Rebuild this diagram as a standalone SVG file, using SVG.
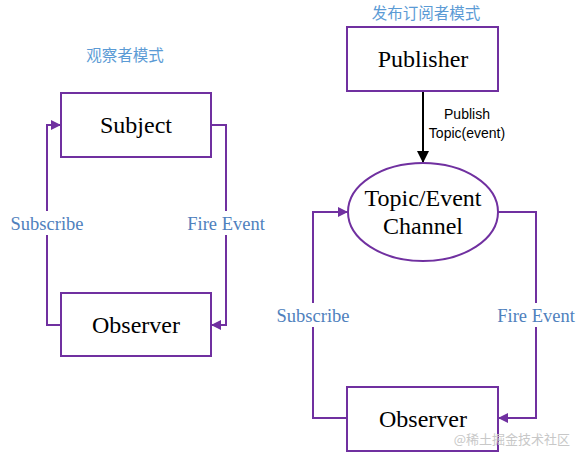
<svg xmlns="http://www.w3.org/2000/svg" width="585" height="459" viewBox="0 0 585 459">
<style>
.node{fill:#fff;stroke:#7030a0;stroke-width:2}
.nt{font-family:"Liberation Serif",serif;font-size:24px;fill:#000;text-anchor:middle}
.lbl{font-family:"Liberation Serif",serif;font-size:18.5px;fill:#4f81bd;text-anchor:middle}
.ttl{font-family:"Noto Sans CJK SC",sans-serif;font-size:15.5px;fill:#5b9bd5;text-anchor:middle}
.pl{font-family:"Liberation Sans",sans-serif;font-size:14px;fill:#000;text-anchor:middle}
.c{fill:none;stroke:#7030a0;stroke-width:2}
.bg{fill:#fff}
</style>
<defs>
<marker id="ap" markerWidth="10" markerHeight="10" refX="9" refY="5" orient="auto" markerUnits="userSpaceOnUse"><path d="M0,0 L10,5 L0,10 z" fill="#7030a0"/></marker>
<marker id="ab" markerWidth="12" markerHeight="12" refX="11" refY="6" orient="auto" markerUnits="userSpaceOnUse"><path d="M0,0 L12,6 L0,12 z" fill="#000"/></marker>
</defs>
<rect width="585" height="459" fill="#fff"/>
<text class="ttl" x="125" y="61">观察者模式</text>
<text class="ttl" x="426" y="19">发布订阅者模式</text>
<g id="connectors">
<path class="c" d="M61,325 H47 V125 H60" marker-end="url(#ap)"/>
<path class="c" d="M211,125 H226 V325 H212" marker-end="url(#ap)"/>
<path d="M423,91 V162" stroke="#000" stroke-width="2" fill="none" marker-end="url(#ab)"/>
<path class="c" d="M347,418 H313 V212 H347" marker-end="url(#ap)"/>
<path class="c" d="M498,212 H536 V418 H499" marker-end="url(#ap)"/>
<rect class="bg" x="8" y="211" width="78" height="24"/>
<text class="lbl" x="47" y="230">Subscribe</text>
<rect class="bg" x="185" y="211" width="84" height="24"/>
<text class="lbl" x="226" y="230">Fire Event</text>
<rect class="bg" x="274" y="303" width="78" height="24"/>
<text class="lbl" x="313" y="322">Subscribe</text>
<rect class="bg" x="494" y="303" width="84" height="24"/>
<text class="lbl" x="536" y="322">Fire Event</text>
<text class="pl" x="467" y="119">Publish</text>
<text class="pl" x="467" y="138">Topic(event)</text>
</g>
<g id="subject"><rect class="node" x="61" y="93" width="150" height="64"/><text class="nt" x="136" y="133">Subject</text></g>
<g id="observer1"><rect class="node" x="61" y="293" width="150" height="63"/><text class="nt" x="136" y="333">Observer</text></g>
<g id="publisher"><rect class="node" x="347" y="27" width="151" height="64"/><text class="nt" x="423" y="67">Publisher</text></g>
<g id="channel"><ellipse class="node" cx="423" cy="212" rx="75" ry="49"/><text class="nt" x="423" y="206">Topic/Event</text><text class="nt" x="423" y="234">Channel</text></g>
<g id="observer2"><rect class="node" x="347" y="387" width="151" height="64"/><text class="nt" x="423" y="427">Observer</text></g>
<text x="570" y="444" font-family="Noto Sans CJK SC,sans-serif" font-size="13" fill="#c8c8c8" text-anchor="end">@稀土掘金技术社区</text>
</svg>
